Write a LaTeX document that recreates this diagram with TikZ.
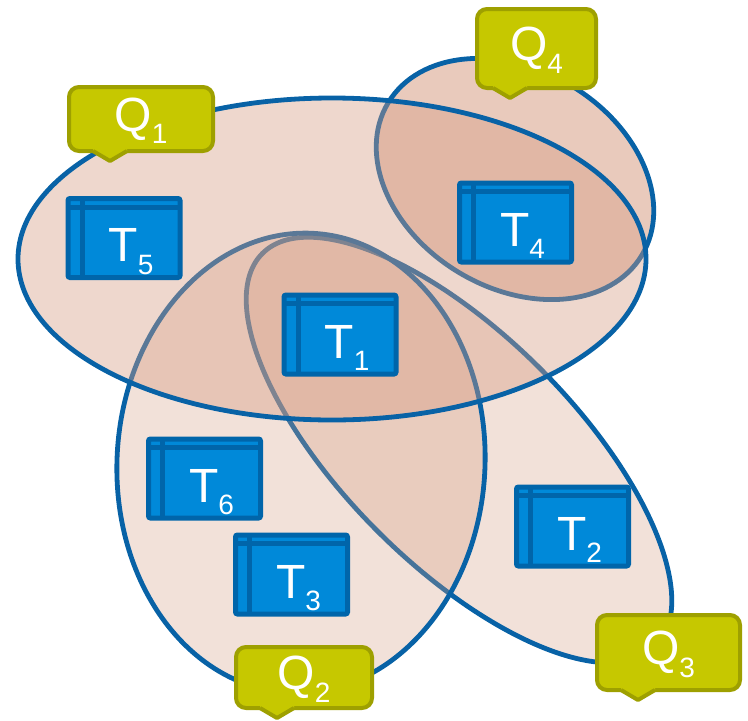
\documentclass[tikz,border=0pt]{standalone}
\usepackage{fontspec}
\setmainfont{Liberation Sans}
\usetikzlibrary{calc}

\definecolor{ringblue}{RGB}{8,98,166}
\definecolor{setfill}{RGB}{213,155,129}
\definecolor{tabdark}{RGB}{0,101,170}
\definecolor{tablight}{RGB}{0,137,217}
\definecolor{qfill}{RGB}{198,200,0}
\definecolor{qline}{RGB}{158,160,0}

\newcommand{\tabname}[1]{\hspace*{14pt}T\raisebox{-12.5pt}[0pt][0pt]{\fontsize{28}{28}\selectfont #1}}
\newcommand{\qname}[1]{Q\raisebox{-12.5pt}[0pt][0pt]{\fontsize{28}{28}\selectfont #1}}

\tikzset{
  querset/.style={draw=ringblue, line width=4.8pt, fill=setfill, fill opacity=#1},
  tabbox/.style={draw=tabdark, fill=tablight, line width=5pt, rounded corners=2pt,
    minimum width=112pt, minimum height=79pt, outer sep=0pt, inner sep=0pt,
    text=white, font=\fontsize{48}{48}\selectfont, text height=47pt},
  tabline/.style={draw=tabdark, line width=5pt},
  qbox/.style={draw=qline, fill=qfill, line width=4pt, rounded corners=10pt,
    outer sep=0pt, inner sep=0pt, text=white, font=\fontsize{48}{48}\selectfont},
  qtip/.style={draw=qline, line width=4pt, line join=round}
}

\begin{document}
\begin{tikzpicture}[x=1pt, y=-1pt]
\useasboundingbox (0,0) rectangle (748,721);

% insiemi delle query
\draw[querset=0.3] (459,450) ellipse [x radius=278pt, y radius=115pt, rotate=-45];
\draw[querset=0.53] (515,179) ellipse [x radius=148pt, y radius=109pt, rotate=-31];
\draw[querset=0.3] (301,463) ellipse [x radius=184pt, y radius=230pt, rotate=-3];
\draw[querset=0.4] (332,259) ellipse [x radius=314pt, y radius=161pt];

% tabelle
\node[tabbox] (t5) at (124,238) {\tabname{5}};
\node[tabbox] (t4) at (515.5,222.5) {\tabname{4}};
\node[tabbox] (t1) at (340,334.5) {\tabname{1}};
\node[tabbox] (t2) at (572.5,526.5) {\tabname{2}};
\node[tabbox] (t6) at (204.5,478.5) {\tabname{6}};
\node[tabbox] (t3) at (291.5,574.5) {\tabname{3}};
\foreach \t in {t1,t2,t3,t4,t5,t6} {
  \draw[tabline] ([yshift=-8.5pt]\t.north west) -- ([yshift=-8.5pt]\t.north east);
  \draw[tabline] ([xshift=14pt]\t.north west) -- ([xshift=14pt]\t.south west);
}

% etichette delle query
\node[qbox, minimum width=144pt, minimum height=64pt] (q1) at (141,119) {\qname{1}};
\node[qbox, minimum width=119pt, minimum height=79pt] (q4) at (536.5,48.5) {\qname{4}};
\node[qbox, minimum width=136pt, minimum height=61pt] (q2) at (304,677.5) {\qname{2}};
\node[qbox, minimum width=143pt, minimum height=75pt] (q3) at (668.5,652.5) {\qname{3}};

% punte dei fumetti
\coordinate (q1tip) at ($(q1.south)+(-31,10)$);
\coordinate (q4tip) at ($(q4.south)+(-26.5,10)$);
\coordinate (q2tip) at ($(q2.south)+(-27,10)$);
\coordinate (q3tip) at ($(q3.south)+(-30.5,10)$);
\foreach \q in {q1tip,q2tip,q3tip,q4tip} {
  \fill[qfill] (\q) -- +(-17,-10) -- +(-17,-16) -- +(17,-16) -- +(17,-10) -- cycle;
  \draw[qtip] (\q) ++(-17,-10) -- (\q) -- ++(17,-10);
}

\end{tikzpicture}
\end{document}
